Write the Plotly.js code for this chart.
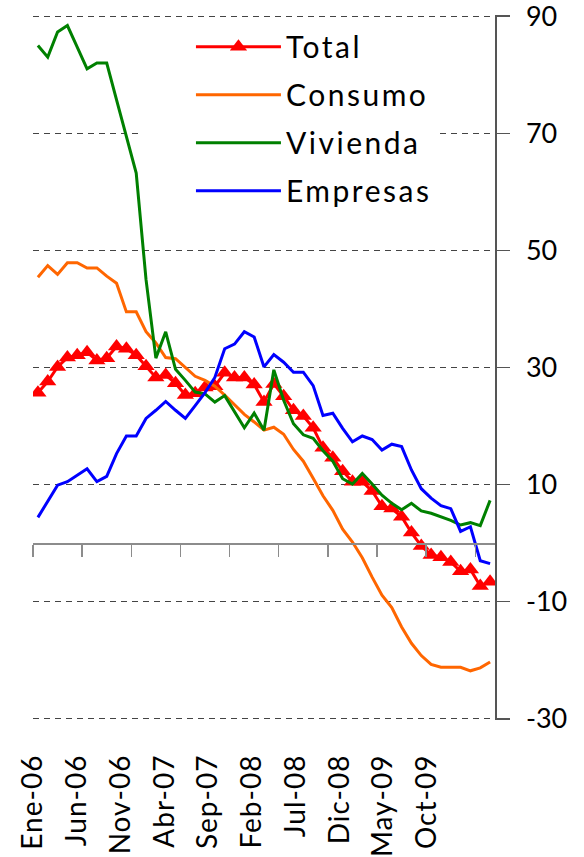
<!DOCTYPE html>
<html>
<head>
<meta charset="utf-8">
<script src="https://cdn.plot.ly/plotly-3.0.1.min.js"></script>
<style>
html,body{margin:0;padding:0;background:#fff;}
#chart{width:584px;height:857px;}
.legendtext{letter-spacing:2.5px;}
.x2tick text{letter-spacing:1px;}
</style>
</head>
<body>
<div id="chart"></div>
<script>
const months = [
  "Ene-06","Feb-06","Mar-06","Abr-06","May-06","Jun-06","Jul-06","Ago-06","Sep-06","Oct-06","Nov-06","Dic-06",
  "Ene-07","Feb-07","Mar-07","Abr-07","May-07","Jun-07","Jul-07","Ago-07","Sep-07","Oct-07","Nov-07","Dic-07",
  "Ene-08","Feb-08","Mar-08","Abr-08","May-08","Jun-08","Jul-08","Ago-08","Sep-08","Oct-08","Nov-08","Dic-08",
  "Ene-09","Feb-09","Mar-09","Abr-09","May-09","Jun-09","Jul-09","Ago-09","Sep-09","Oct-09","Nov-09"
];
const tickLabels = ["Ene-06","Jun-06","Nov-06","Abr-07","Sep-07","Feb-08","Jul-08","Dic-08","May-09","Oct-09"];
const yTickVals = [-30, -10, 10, 30, 50, 70, 90];
const yTickText = ["-30", "-10", "10", "30", "50", "70", "90"];

const total = [25.7,27.6,30.1,31.7,32.1,32.6,31.2,31.6,33.6,33.2,32.1,30.2,28.3,28.7,27.3,25.3,25.6,26.6,26.8,29.1,28.3,28.3,27.1,24.1,27.2,25.1,22.7,21.7,19.7,16.3,14.6,12.3,10.5,10.5,8.9,6.3,5.9,4.5,1.8,-0.5,-2.0,-2.4,-3.2,-4.8,-4.5,-7.3,-6.6];
const consumo = [45.4,47.4,45.9,47.9,47.9,47.0,47.0,45.6,44.4,39.5,39.5,36.1,34.2,31.7,31.5,30.0,28.5,27.8,26.8,25.3,23.6,22.0,20.7,19.3,19.8,18.6,16.0,14.0,11.1,8.1,5.6,2.4,0.2,-2.5,-5.8,-8.9,-11.0,-14.3,-17.1,-19.2,-20.7,-21.2,-21.2,-21.2,-21.8,-21.3,-20.3];
const vivienda = [85.0,83.0,87.3,88.4,84.7,81.0,82.0,82.0,75.7,69.4,63.2,45.0,31.6,36.1,29.7,27.8,25.8,25.5,24.1,25.2,22.4,19.7,22.2,19.3,29.6,24.4,20.4,18.5,17.9,15.8,14.0,11.0,10.1,11.9,10.1,8.2,6.8,5.7,6.8,5.5,5.1,4.5,3.9,3.1,3.5,3.0,7.3];
const empresas = [4.4,7.2,9.9,10.5,11.6,12.7,10.5,11.4,15.3,18.3,18.3,21.3,22.7,24.2,22.7,21.3,23.5,25.7,28.3,33.2,34.0,36.1,35.2,30.1,32.2,30.9,29.2,29.2,26.9,21.8,22.2,19.6,17.3,18.3,17.7,15.9,16.9,16.5,12.5,9.3,7.7,6.4,5.9,2.0,2.8,-3.0,-3.5];

const idx = months.map((_, i) => i);

function mk(name, vals, color, extra) {
  return Object.assign({
    type: 'scatter', mode: 'lines', name: name, x: idx, y: vals,
    text: months, hovertemplate: '%{text}: %{y}<extra>' + name + '</extra>',
    line: {color: color, width: 3}, legendgroup: name
  }, extra || {});
}

const traces = [
  mk('Total', total, '#ff0000', {mode: 'lines+markers', marker: {symbol: 'triangle-up', size: 15, color: '#ff0000'}}),
  mk('Consumo', consumo, '#ff6600'),
  mk('Vivienda', vivienda, '#008000'),
  mk('Empresas', empresas, '#0000ff'),
  // empty trace that only carries the date-label axis
  {type: 'scatter', mode: 'lines', x: [], y: [], xaxis: 'x2', yaxis: 'y', showlegend: false, hoverinfo: 'skip'}
];

const yRange = [-30.2, 90.2];
const zeroPos = (0 - yRange[0]) / (yRange[1] - yRange[0]);

const layout = {
  width: 584, height: 857,
  margin: {l: 33, r: 89, t: 14.5, b: 136.5},
  paper_bgcolor: '#fff', plot_bgcolor: '#fff',
  showlegend: true,
  font: {family: 'Lato, "Open Sans", sans-serif', size: 28, color: '#000'},
  xaxis: {
    range: [-0.5, 46.5], anchor: 'free', position: zeroPos,
    showline: true, linecolor: '#8c8c8c', linewidth: 1.5,
    ticks: 'outside', ticklen: 12, tickwidth: 1.5, tickcolor: '#8c8c8c',
    tickmode: 'array', tickvals: idx.filter(i => i % 5 === 0).map(i => i - 0.5),
    showticklabels: false, showgrid: false, zeroline: false
  },
  xaxis2: {
    overlaying: 'x', anchor: 'y', side: 'bottom',
    range: [-0.007, 10.556],
    tickmode: 'array', tickvals: tickLabels.map((_, i) => i), ticktext: tickLabels,
    tickangle: -90, ticks: '', showline: false, showgrid: false, zeroline: false,
    tickfont: {size: 28, color: '#000'}, ticklabelstandoff: 28, ticklabeloverflow: 'allow'
  },
  yaxis: {
    range: yRange, side: 'right',
    tickmode: 'array', tickvals: yTickVals, ticktext: yTickText,
    showline: true, linecolor: '#555', linewidth: 1.5,
    ticks: 'outside', ticklen: 13, tickcolor: '#555', tickwidth: 1.5,
    showgrid: true, gridcolor: '#444', griddash: '6px,5px', gridwidth: 1,
    zeroline: false, tickfont: {size: 27, color: '#000'}, ticklabelstandoff: 11,
    ticklabeloverflow: 'allow'
  },
  legend: {
    x: 0.238, y: 0.992, xanchor: 'left', yanchor: 'top',
    bgcolor: '#fff', borderwidth: 0, font: {size: 30, color: '#000'},
    itemwidth: 85, tracegroupgap: 6, indentation: 48, entrywidth: 300
  }
};

Plotly.newPlot('chart', traces, layout, {displayModeBar: false, staticPlot: true});
</script>
</body>
</html>
